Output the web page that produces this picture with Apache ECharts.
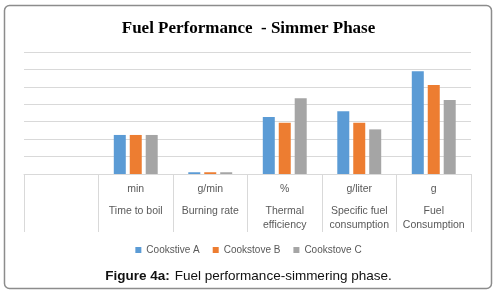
<!DOCTYPE html>
<html>
<head>
<meta charset="utf-8">
<script src="https://cdn.jsdelivr.net/npm/echarts@6/dist/echarts.min.js"></script>
<style>
  html, body { margin: 0; padding: 0; background: #fff; }
  #chart { width: 497px; height: 294px; }
</style>
</head>
<body>
<div id="chart"></div>
<script>
// categories (first one is an empty column in the original)
const units = ['', 'min', 'g/min', '%', 'g/liter', 'g']
const names = ['', 'Time to boil', 'Burning rate', 'Thermal\nefficiency', 'Specific fuel\nconsumption', 'Fuel\nConsumption']

// bar values (unitless scale, gridline = 1)
const cookstoveA = [null, 2.24, 0.1, 3.27, 3.6, 5.89]
const cookstoveB = [null, 2.24, 0.1, 2.94, 2.94, 5.1]
const cookstoveC = [null, 2.24, 0.1, 4.34, 2.56, 4.25]

const seriesNames = ['Cookstive A', 'Cookstove B', 'Cookstove C']
const colors = ['#5B9BD5', '#ED7D31', '#A5A5A5']

const chart = echarts.init(document.getElementById('chart'))

const labelText = units.map((u, i) => {
  if (!u) return ''
  const lines = names[i].split('\n').map(l => '{b|' + l + '}')
  return '{a|' + u + '}\n' + lines.join('\n')
})

const makeSeries = (name, data, color) => ({
  name: name,
  type: 'bar',
  data: data,
  barWidth: 12,
  barGap: '33%',
  itemStyle: { color: color }
})

const option = {
  animation: false,
  color: colors,
  title: [{
    text: 'Fuel Performance  - Simmer Phase',
    left: 'center',
    top: 15,
    textStyle: {
      fontFamily: 'Liberation Serif',
      fontWeight: 'bold',
      fontSize: 17,
      color: '#000'
    }
  }, {
    text: '{b|Figure 4a:} {n|Fuel performance-simmering phase.}',
    left: 'center',
    top: 262,
    textStyle: {
      fontWeight: 'normal',
      rich: {
        b: { fontFamily: 'Liberation Sans', fontWeight: 'bold', fontSize: 13.5, color: '#111' },
        n: { fontFamily: 'Liberation Sans', fontWeight: 'normal', fontSize: 13.5, color: '#111' }
      }
    }
  }],
  graphic: [{
    type: 'rect',
    shape: { x: 4.5, y: 5.5, width: 487, height: 283, r: 5 },
    style: { fill: 'none', stroke: '#8c8c8c', lineWidth: 1.5 },
    silent: true
  }],
  legend: {
    data: seriesNames,
    top: 240,
    left: 'center',
    icon: 'rect',
    itemWidth: 6,
    itemHeight: 6,
    itemGap: 13,
    textStyle: { fontFamily: 'Liberation Sans', fontSize: 10, color: '#595959' }
  },
  grid: { left: 24, right: 26, top: 52, bottom: 120 },
  xAxis: {
    type: 'category',
    data: units,
    axisLine: { show: true, lineStyle: { color: '#d9d9d9' } },
    axisTick: { show: true, length: 58, lineStyle: { color: '#d9d9d9' } },
    axisLabel: {
      interval: 0,
      margin: 0,
      formatter: (v, i) => labelText[i],
      rich: {
        a: { fontFamily: 'Liberation Sans', fontSize: 10.5, color: '#595959', lineHeight: 30 },
        b: { fontFamily: 'Liberation Sans', fontSize: 10.5, color: '#595959', lineHeight: 14 }
      }
    }
  },
  yAxis: {
    type: 'value',
    min: 0,
    max: 7,
    interval: 1,
    axisLabel: { show: false },
    axisLine: { show: false },
    axisTick: { show: false },
    splitLine: { lineStyle: { color: '#d9d9d9' } }
  },
  series: [
    makeSeries(seriesNames[0], cookstoveA, colors[0]),
    makeSeries(seriesNames[1], cookstoveB, colors[1]),
    makeSeries(seriesNames[2], cookstoveC, colors[2])
  ]
}

chart.setOption(option)
</script>
</body>
</html>
